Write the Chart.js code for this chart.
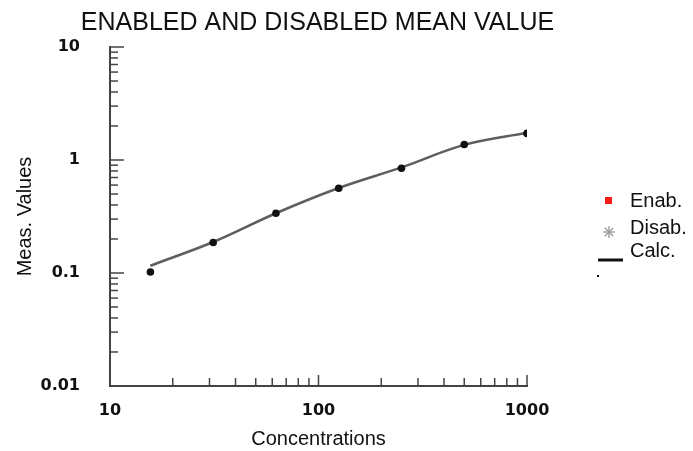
<!DOCTYPE html>
<html>
<head>
<meta charset="utf-8">
<script src="https://cdn.jsdelivr.net/npm/chart.js@4/dist/chart.umd.min.js"></script>
<style>
  html, body { margin: 0; padding: 0; background: #fff; }
  #wrap { width: 693px; height: 451px; position: relative; }
</style>
</head>
<body>
<div id="wrap"><canvas id="c" width="693" height="451"></canvas></div>
<script>
// ---- data ----
const concentrations = [15.625, 31.25, 62.5, 125, 250, 500, 1000];
const meanValues = [0.102, 0.186, 0.338, 0.562, 0.846, 1.37, 1.72];
const calcConcentrations = [15.625, 31.25, 62.5, 125, 250, 500, 1000];
const calcValues = [0.116, 0.188, 0.338, 0.565, 0.86, 1.36, 1.74];
const xTicks = [10, 100, 1000];
const yTicks = [0.01, 0.1, 1, 10];
const legendLabels = ['Enab.', 'Disab.', 'Calc.'];
const titleText = 'ENABLED AND DISABLED MEAN VALUE';
const xTitle = 'Concentrations';
const yTitle = 'Meas. Values';

const AXIS = '#444';
const minorMult = [2, 3, 4, 5, 6, 7, 8, 9];

const insideTicks = {
  id: 'insideTicks',
  afterDraw(chart) {
    const ctx = chart.ctx;
    const xs = chart.scales.x, ys = chart.scales.y;
    const a = chart.chartArea;
    ctx.save();
    ctx.strokeStyle = AXIS;
    ctx.lineWidth = 1.5;
    // y ticks (pointing right, inside)
    yTicks.forEach((d, i) => {
      const py = ys.getPixelForValue(d);
      ctx.beginPath(); ctx.moveTo(a.left, py); ctx.lineTo(a.left + 14, py); ctx.stroke();
      if (i < yTicks.length - 1) {
        minorMult.forEach(m => {
          const p = ys.getPixelForValue(d * m);
          ctx.beginPath(); ctx.moveTo(a.left, p); ctx.lineTo(a.left + 8, p); ctx.stroke();
        });
      }
    });
    // x ticks (pointing up, inside)
    xTicks.forEach((d, i) => {
      const px = xs.getPixelForValue(d);
      ctx.beginPath(); ctx.moveTo(px, a.bottom); ctx.lineTo(px, a.bottom - 11); ctx.stroke();
      if (i < xTicks.length - 1) {
        minorMult.forEach(m => {
          const p = xs.getPixelForValue(d * m);
          ctx.beginPath(); ctx.moveTo(p, a.bottom); ctx.lineTo(p, a.bottom - 8); ctx.stroke();
        });
      }
    });
    // legend
    const lx = 630;
    const ly = [201, 228, 251];
    ctx.fillStyle = '#ff1a1a';
    ctx.fillRect(605, 197, 7, 7);
    ctx.strokeStyle = '#999';
    ctx.lineWidth = 1.3;
    const cx = 609, cy = 232, r = 6;
    for (let k = 0; k < 4; k++) {
      const ang = k * Math.PI / 4;
      ctx.beginPath();
      ctx.moveTo(cx - r * Math.cos(ang), cy - r * Math.sin(ang));
      ctx.lineTo(cx + r * Math.cos(ang), cy + r * Math.sin(ang));
      ctx.stroke();
    }
    ctx.fillStyle = '#111';
    ctx.fillRect(598, 258.5, 25, 3);
    ctx.fillRect(597, 275, 2, 2);
    ctx.font = '20px "Liberation Sans", Arial, sans-serif';
    ctx.textBaseline = 'middle';
    ctx.textAlign = 'left';
    ctx.fillStyle = '#111';
    legendLabels.forEach((t, i) => ctx.fillText(t, lx, ly[i]));
    ctx.restore();
  }
};

new Chart(document.getElementById('c'), {
  type: 'scatter',
  data: {
    datasets: [
      {
        label: 'Mean',
        data: concentrations.map((x, i) => ({ x, y: meanValues[i] })),
        showLine: false,
        pointRadius: 3.8,
        pointHoverRadius: 3.8,
        pointBackgroundColor: '#111',
        pointBorderColor: '#111',
        borderWidth: 0
      },
      {
        label: 'Calc.',
        data: calcConcentrations.map((x, i) => ({ x, y: calcValues[i] })),
        showLine: true,
        borderColor: '#5e5e5e',
        borderWidth: 2.5,
        pointRadius: 0,
        tension: 0.35,
        fill: false
      }
    ]
  },
  options: {
    responsive: false,
    animation: false,
    events: [],
    layout: { padding: { left: 10, right: 68, top: 0, bottom: 0 } },
    plugins: {
      legend: { display: false },
      tooltip: { enabled: false },
      title: {
        display: true,
        text: titleText,
        color: '#111',
        font: { family: '"Liberation Sans", Arial, sans-serif', size: 25, weight: 'normal' },
        padding: { top: 8.3, bottom: 8.7 }
      }
    },
    scales: {
      x: {
        type: 'logarithmic',
        min: 10, max: 1000,
        afterBuildTicks: s => { s.ticks = xTicks.map(v => ({ value: v })); },
        afterFit: s => { s.height = 65; },
        grid: { drawOnChartArea: false, drawTicks: false },
        border: { display: true, color: AXIS, width: 2 },
        ticks: {
          padding: 15,
          color: '#111',
          maxRotation: 0,
          font: { family: '"DejaVu Sans", sans-serif', size: 16, weight: 'bold' },
          callback: v => String(v)
        },
        title: {
          display: true,
          text: xTitle,
          color: '#111',
          font: { family: '"Liberation Sans", Arial, sans-serif', size: 20 },
          padding: { top: 0, bottom: 0 }
        }
      },
      y: {
        type: 'logarithmic',
        min: 0.01, max: 10,
        afterBuildTicks: s => { s.ticks = yTicks.map(v => ({ value: v })); },
        afterFit: s => { s.width = 100; },
        grid: { drawOnChartArea: false, drawTicks: false },
        border: { display: true, color: AXIS, width: 2 },
        ticks: {
          padding: 30,
          color: '#111',
          font: { family: '"DejaVu Sans", sans-serif', size: 16, weight: 'bold' },
          callback: v => String(v)
        },
        title: {
          display: true,
          text: yTitle,
          color: '#111',
          font: { family: '"Liberation Sans", Arial, sans-serif', size: 20 },
          padding: { top: 3, bottom: 0 }
        }
      },
      legendSpace: {
        type: 'logarithmic',
        position: 'right',
        min: 0.01, max: 10,
        afterFit: s => { s.width = 98; },
        grid: { display: false, drawTicks: false },
        border: { display: false },
        ticks: { display: false }
      }
    }
  },
  plugins: [insideTicks]
});
</script>
</body>
</html>
